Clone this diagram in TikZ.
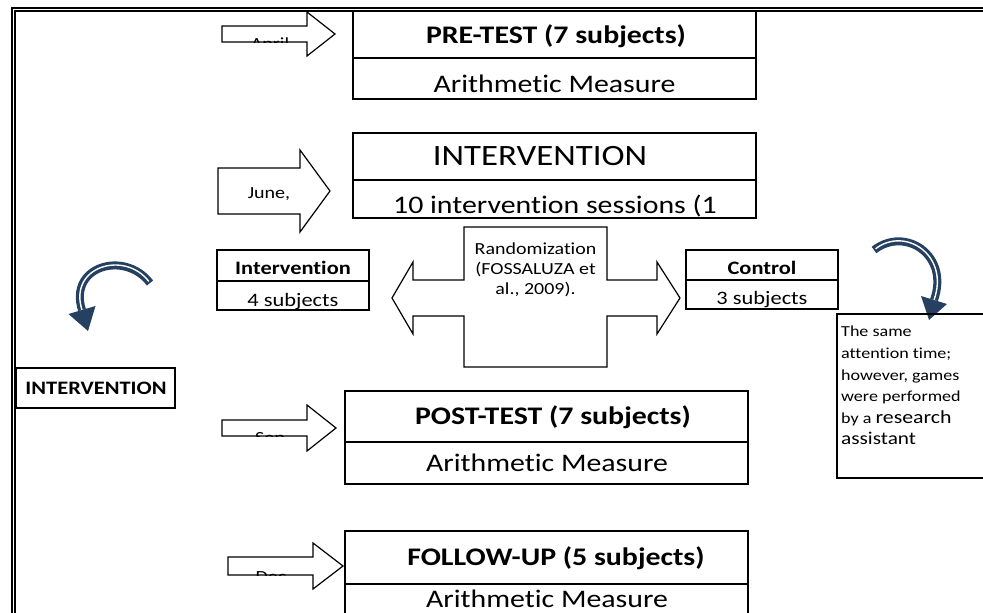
\documentclass[tikz,border=0pt]{standalone}
\usepackage{fontspec}
\setmainfont{Carlito}[FakeStretch=1.18,Ligatures=NoCommon]
\definecolor{arrowblue}{HTML}{254061}
\begin{document}
\begin{tikzpicture}[x=1pt,y=-1pt,line join=miter,
  box/.style={draw,line width=1.5pt,anchor=north west,inner sep=0pt,outer sep=0pt},
  tbox/.style={box,line width=1.8pt},
  blk/.style={draw,line width=1.2pt,fill=white},
  txt/.style={inner sep=0pt,anchor=base},
  ftitle/.style={font=\bfseries\fontsize{25.3}{30}\selectfont},
  fsub/.style={font=\fontsize{25.3}{30}\selectfont},
  fbig/.style={font=\fontsize{29.5}{35}\selectfont},
  fgroupb/.style={font=\bfseries\fontsize{19}{23}\selectfont},
  fgroup/.style={font=\fontsize{19}{23}\selectfont},
  fsmall/.style={font=\fontsize{16.9}{19.8}\selectfont},
  lbl/.style={inner sep=0pt,anchor=base,font=\fontsize{17}{20}\selectfont},
  band/.style={draw=arrowblue,line width=8pt,line cap=butt},
  stripe/.style={draw=white,line width=1.4pt}]
\useasboundingbox (0,0) rectangle (983,613);
% page frame
\draw[line width=2pt] (12,613) -- (12,7.7) -- (990,7.7);
\draw[line width=2pt] (15,613) -- (15,11) -- (990,11);

% PRE-TEST
\node[tbox,minimum width=403pt,minimum height=47pt] (pre1) at (353,11) {};
\node[txt,ftitle] (pre1t) at (556,43) {PRE-TEST (7 subjects)};
\node[box,minimum width=403pt,minimum height=41pt] (pre2) at (353,58) {};
\node[txt,fsub] (pre2t) at (554.5,92) {Arithmetic Measure};
% April arrow
\draw[blk] (222,26) -- (307,26) -- (307,12) -- (335,34) -- (307,56) -- (307,42) -- (222,42) -- cycle;
\begin{scope}
\clip (222,26) rectangle (307,42);
\node[lbl] (april) at (270,49) {April};
\end{scope}

% INTERVENTION
\node[tbox,minimum width=403pt,minimum height=47pt] (int1) at (353,133) {};
\node[txt,fbig] (int1t) at (540,165) {INTERVENTION};
\node[box,minimum width=403pt,minimum height=38pt] (int2) at (353,180) {};
\begin{scope}
\clip (353,180) rectangle (756,218);
\node[txt,fsub] (sess) at (555,213) {10 intervention sessions (1};
\end{scope}
% June arrow
\draw[blk] (218,168) -- (300,168) -- (300,150) -- (330,191) -- (300,232) -- (300,214) -- (218,214) -- cycle;
\node[lbl] (june) at (269,198) {June,};

% Randomization double arrow
\draw[blk] (392,298) -- (413,262) -- (413,280) -- (464,280) -- (464,227) -- (607,227) -- (607,280)
  -- (657,280) -- (657,262) -- (680,298) -- (657,334) -- (657,316) -- (607,316) -- (607,367)
  -- (464,367) -- (464,316) -- (413,316) -- (413,334) -- cycle;
\node[fsmall,align=center,inner sep=0pt] (rand) at (535.5,270) {Randomization\\(FOSSALUZA et\\al., 2009).};

% Intervention group
\node[box,minimum width=152pt,minimum height=31pt] (ib1) at (217,250) {};
\node[txt,fgroupb] (ib1t) at (293,274) {Intervention};
\node[box,minimum width=152pt,minimum height=29pt] (ib2) at (217,281) {};
\begin{scope}
\clip (217,281) rectangle (369,310);
\node[txt,fgroup] (ib2t) at (293,306) {4 subjects};
\end{scope}
% Control group
\node[box,minimum width=152pt,minimum height=30pt] (cb1) at (686,250) {};
\node[txt,fgroupb] (cb1t) at (762,274) {Control};
\node[box,minimum width=152pt,minimum height=29pt] (cb2) at (686,280) {};
\node[txt,fgroup] (cb2t) at (762,304) {3 subjects};

% curved arrows
\draw[band] (150,283) .. controls (125,250) and (68,266) .. (82,310);
\draw[stripe,shorten <=2pt] (150,283) .. controls (125,250) and (68,266) .. (82,310);
\fill[arrowblue] (95.5,306) -- (88,331) -- (68.5,314) -- cycle;
\draw[band] (874,250) .. controls (905,226) and (950,255) .. (934,300);
\draw[stripe,shorten <=2pt] (874,250) .. controls (905,226) and (950,255) .. (934,300);
\fill[arrowblue] (947,304) -- (929,320) -- (921,296) -- cycle;

% left INTERVENTION
\node[box,minimum width=159pt,minimum height=40pt] (lint) at (16,368) {};
\node[txt,fgroupb] (lintt) at (96,394) {INTERVENTION};

% note box
\draw[line width=1.2pt] (990,314) -- (837,314) -- (837,478) -- (990,478);
\node[anchor=north west,align=left,inner sep=0pt,font=\fontsize{15.3}{21.6}\selectfont] (note) at (841,326)
 {The same\\attention time;\\however, games\\were performed\\by a {\fontsize{18.5}{21.6}\selectfont research}\\{\fontsize{18}{21.6}\selectfont assistant}};

% POST-TEST
\node[tbox,minimum width=403pt,minimum height=51pt] (post1) at (345,391) {};
\node[txt,ftitle] (post1t) at (553,424) {POST-TEST (7 subjects)};
\node[box,minimum width=403pt,minimum height=42pt] (post2) at (345,442) {};
\node[txt,fsub] (post2t) at (547,471) {Arithmetic Measure};
\draw[blk] (222,420) -- (307,420) -- (307,405) -- (336,428) -- (307,451) -- (307,436) -- (222,436) -- cycle;
\begin{scope}
\clip (222,420) rectangle (307,436);
\node[lbl] (sep) at (270,443) {Sep};
\end{scope}

% FOLLOW-UP
\node[tbox,minimum width=403pt,minimum height=53pt] (fol1) at (345,531) {};
\node[txt,ftitle] (fol1t) at (556,565) {FOLLOW-UP (5 subjects)};
\node[box,minimum width=403pt,minimum height=44pt] (fol2) at (345,584) {};
\node[txt,fsub] (fol2t) at (547,607) {Arithmetic Measure};
\draw[blk] (228,557) -- (313,557) -- (313,543) -- (343,566) -- (313,589) -- (313,575) -- (228,575) -- cycle;
\begin{scope}
\clip (228,557) rectangle (313,575);
\node[lbl] (dec) at (271,582) {Dec};
\end{scope}
\end{tikzpicture}
\end{document}
